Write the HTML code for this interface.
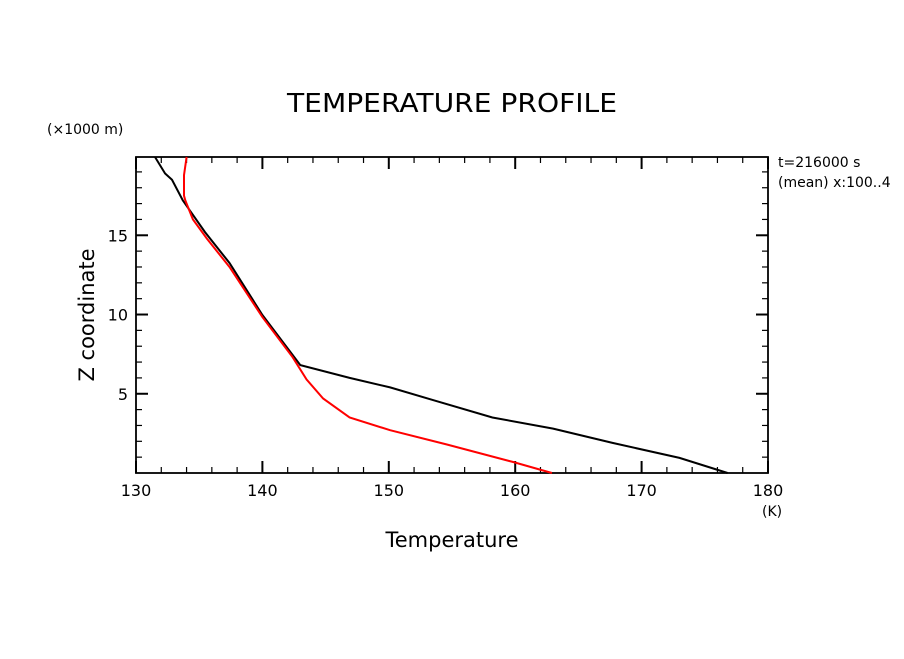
<!DOCTYPE html>
<html><head><meta charset="utf-8"><style>
body{margin:0;background:#fff;}
svg text{font-family:"DejaVu Sans","Liberation Sans",sans-serif;fill:#000;}
</style></head><body>
<svg id="chart" width="904" height="654" xmlns="http://www.w3.org/2000/svg">
<rect width="904" height="654" fill="#fff"/>
<text x="452" y="112" font-size="26" text-anchor="middle" font-weight="400" textLength="330" lengthAdjust="spacingAndGlyphs">TEMPERATURE  PROFILE</text>
<text x="47" y="134" font-size="14">(×1000 m)</text>
<text x="778" y="167" font-size="14">t=216000 s</text>
<text x="778" y="187" font-size="14">(mean) x:100..4</text>
<text transform="translate(94,315) rotate(-90)" font-size="21" text-anchor="middle">Z coordinate</text>
<text x="452" y="547" font-size="21" text-anchor="middle">Temperature</text>
<text x="762" y="516" font-size="14">(K)</text>
<g id="axes"></g>
<g id="series"></g>
</svg>
<script>
const xTicks=[130,140,150,160,170,180];
const yTicks=[5,10,15];
const blackT=[131.5,132.3,132.85,133.7,135.46,137.4,140.0,143.0,146.9,150.1,153.5,158.2,163.0,167.7,173.0,176.8];
const blackZ=[19.94,18.9,18.5,17.2,15.2,13.25,9.97,6.81,6.0,5.4,4.6,3.5,2.8,1.9,0.95,0];
const redT=[134.0,133.8,133.8,133.9,134.5,135.6,137.4,140.0,142.4,143.5,144.8,146.9,150.1,154.6,159.8,162.9];
const redZ=[19.94,18.8,17.5,17.2,16.0,14.8,13.0,9.84,7.3,5.9,4.7,3.5,2.7,1.8,0.7,0];
const X0=136,X1=768,Y0=473,Y1=157,TMIN=130,TMAX=180,ZMIN=0,ZMAX=19.94;
const sx=t=>X0+(t-TMIN)/(TMAX-TMIN)*(X1-X0);
const sy=z=>Y0-(z-ZMIN)/(ZMAX-ZMIN)*(Y0-Y1);
const NS="http://www.w3.org/2000/svg";
const ax=document.getElementById('axes'),se=document.getElementById('series');
function mk(tag,at,parent){const e=document.createElementNS(NS,tag);for(const k in at)e.setAttribute(k,at[k]);parent.appendChild(e);return e;}
const frame=mk('rect',{x:X0,y:Y1,width:X1-X0,height:Y0-Y1,fill:'none',stroke:'#000','stroke-width':1.8},ax);


for(let t=TMIN;t<=TMAX;t+=2){const big=(t%10===0);const L=big?12:6;const x=sx(t);
 const a=mk('line',{x1:x,x2:x,y1:Y0,y2:Y0-L,stroke:'#000','stroke-width':big?2:1.2},ax);
 
 
 const b=mk('line',{x1:x,x2:x,y1:Y1,y2:Y1+L,stroke:'#000','stroke-width':big?2:1.2},ax);
 
 }
xTicks.forEach(t=>{const e=mk('text',{x:sx(t),y:496,'font-size':16,'text-anchor':'middle'},ax);e.textContent=t;
 
 });
for(let z=1;z<=19;z++){const big=(z%5===0);const L=big?12:6;const y=sy(z);
 const a=mk('line',{x1:X0,x2:X0+L,y1:y,y2:y,stroke:'#000','stroke-width':big?2:1.2},ax);
 
 
 const b=mk('line',{x1:X1,x2:X1-L,y1:y,y2:y,stroke:'#000','stroke-width':big?2:1.2},ax);
 
 }
yTicks.forEach(z=>{const e=mk('text',{x:128,y:sy(z)+6,'font-size':16,'text-anchor':'end'},ax);e.textContent=z;
 
 });
function line(T,Z,color,name){const p=T.map((t,i)=>sx(t).toFixed(1)+','+sy(Z[i]).toFixed(1)).join(' ');
 const e=mk('polyline',{points:p,fill:'none',stroke:color,'stroke-width':2},se);
 
 }
line(blackT,blackZ,'#000','black-profile-line');
line(redT,redZ,'#f00','red-profile-line');
</script>
</body></html>
